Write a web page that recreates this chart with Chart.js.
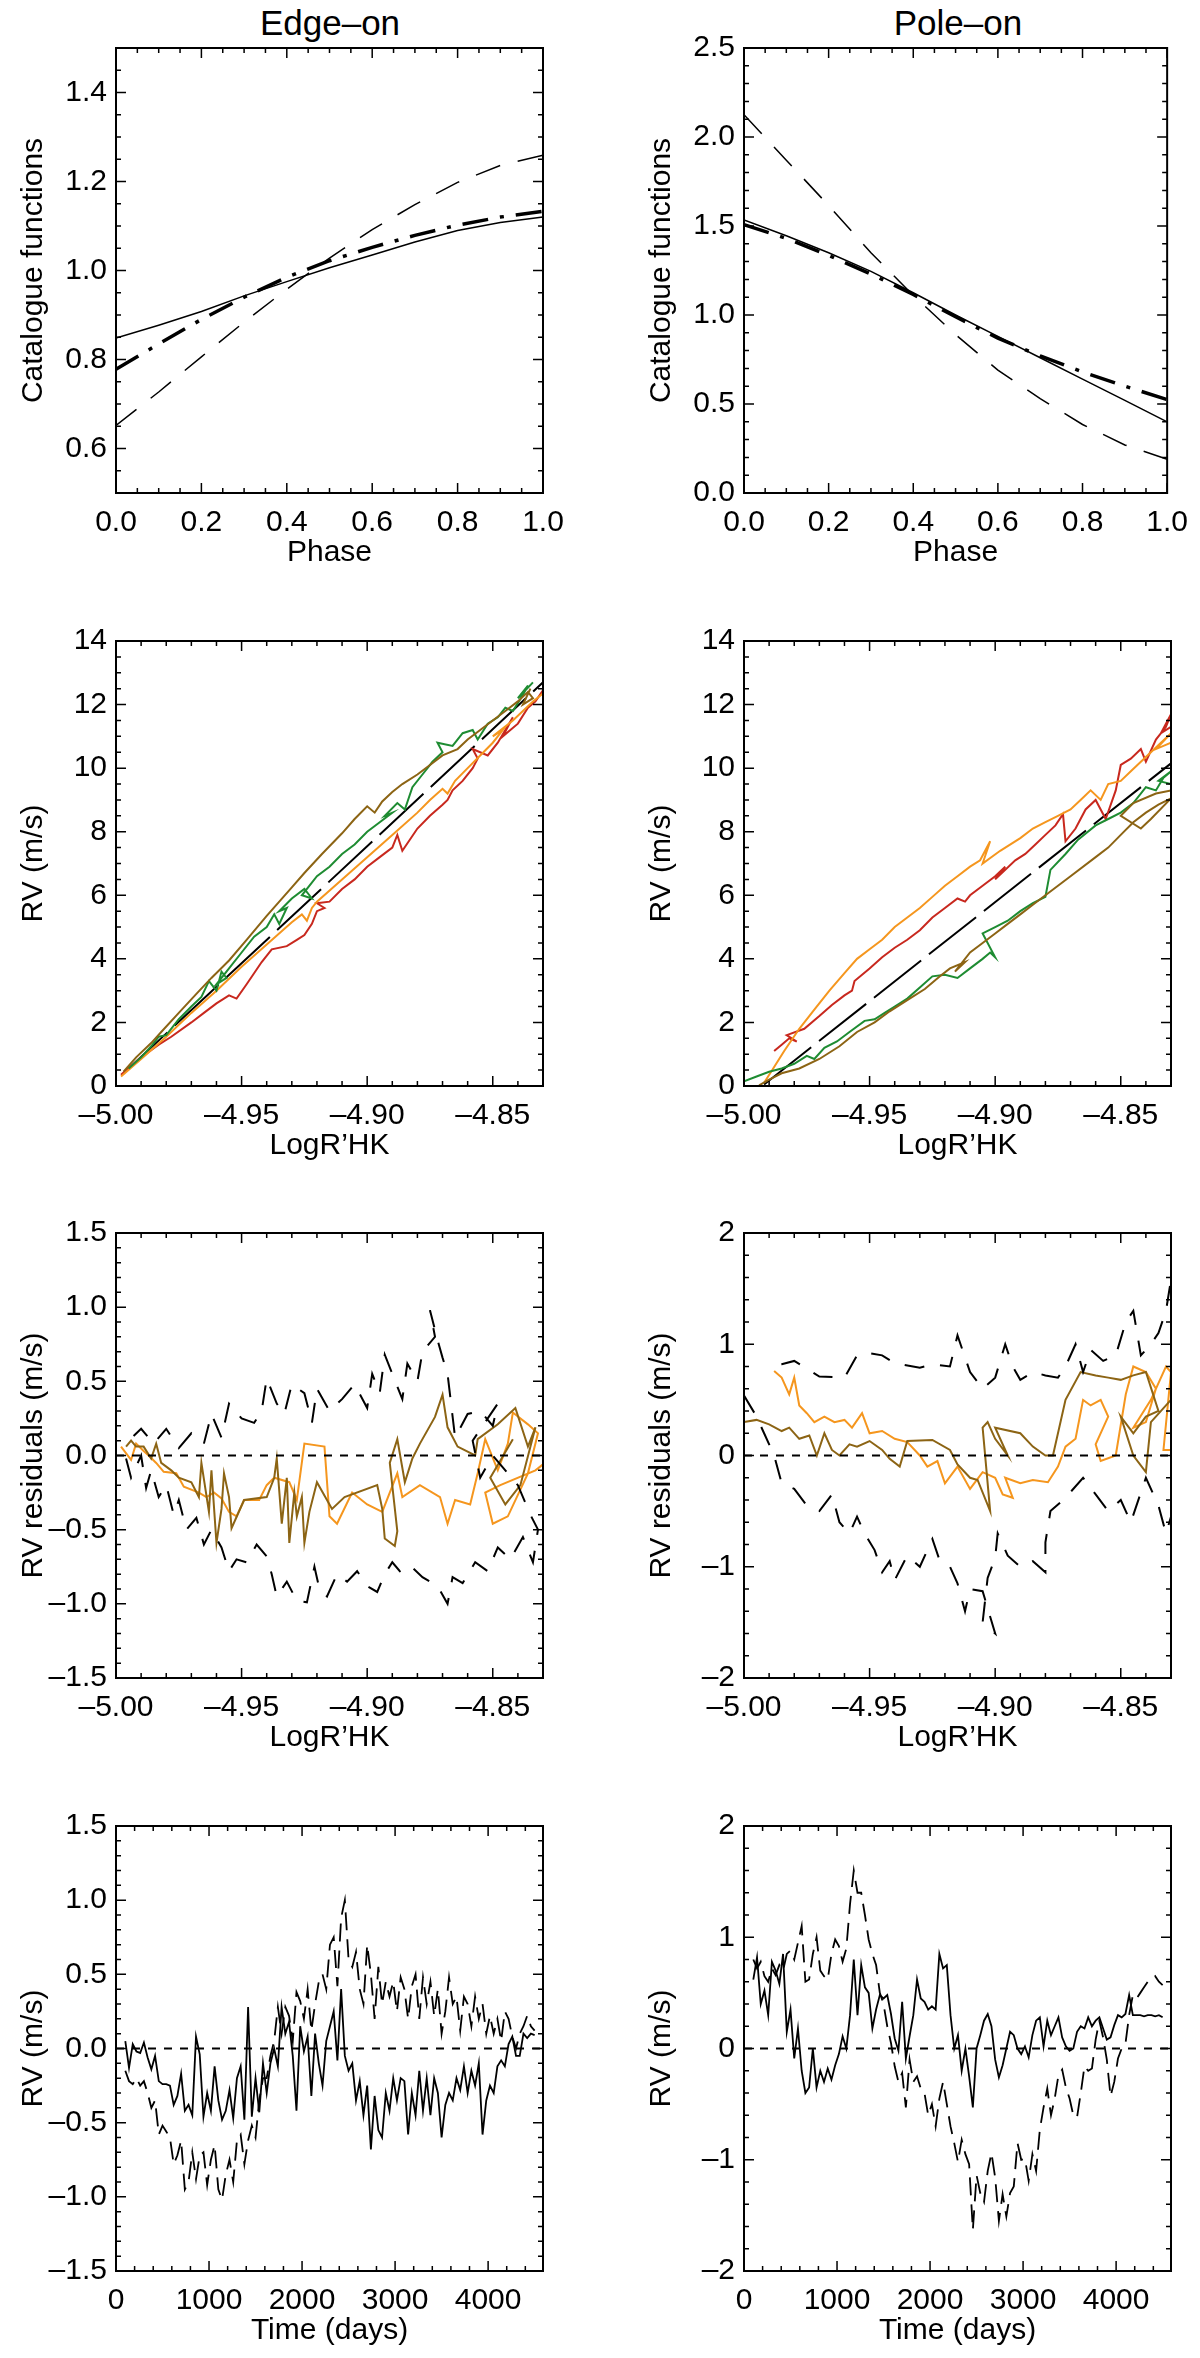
<!DOCTYPE html>
<html>
<head>
<meta charset="utf-8">
<script src="https://cdn.jsdelivr.net/npm/chart.js@4.4.0/dist/chart.umd.min.js"></script>
<style>
html, body { margin: 0; padding: 0; background: #fff; width: 1200px; height: 2358px; overflow: hidden; }
canvas { position: absolute; }
.head { position: absolute; top: 3px; width: 300px; text-align: center; font: 35px "Liberation Sans", Arial, sans-serif; line-height: 40px; color: #000; }
</style>
</head>
<body>
<div class="head" style="left:180px">Edge–on</div>
<div class="head" style="left:808px">Pole–on</div>
<canvas id="c1" width="600" height="593" style="left:0;top:0"></canvas>
<canvas id="c2" width="572" height="593" style="left:628px;top:0"></canvas>
<canvas id="c3" width="600" height="593" style="left:0;top:593px"></canvas>
<canvas id="c4" width="572" height="593" style="left:628px;top:593px"></canvas>
<canvas id="c5" width="600" height="593" style="left:0;top:1185px"></canvas>
<canvas id="c6" width="572" height="593" style="left:628px;top:1185px"></canvas>
<canvas id="c7" width="600" height="593" style="left:0;top:1778px"></canvas>
<canvas id="c8" width="572" height="593" style="left:628px;top:1778px"></canvas>
<script>
// tick labels
const phaseTicks = [0, 0.2, 0.4, 0.6, 0.8, 1.0];
const edgeCatTicks = [0.6, 0.8, 1.0, 1.2, 1.4];
const poleCatTicks = [0, 0.5, 1.0, 1.5, 2.0, 2.5];
const logTicks = [-5.00, -4.95, -4.90, -4.85];
const rvTicks = [0, 2, 4, 6, 8, 10, 12, 14];
const edgeResTicks = [-1.5, -1.0, -0.5, 0, 0.5, 1.0, 1.5];
const poleResTicks = [-2, -1, 0, 1, 2];
const dayTicks = [0, 1000, 2000, 3000, 4000];

// catalogue functions vs phase
const phase = [0, 0.1, 0.2, 0.3, 0.4, 0.5, 0.6, 0.7, 0.8, 0.9, 1.0];
const edgeSolid = [0.848, 0.877, 0.908, 0.943, 0.975, 1.006, 1.035, 1.064, 1.090, 1.108, 1.120];
const edgeDashDot = [0.778, 0.835, 0.890, 0.940, 0.985, 1.022, 1.052, 1.079, 1.102, 1.120, 1.133];
const edgeDashed = [0.652, 0.727, 0.806, 0.884, 0.958, 1.028, 1.092, 1.148, 1.198, 1.236, 1.259];
const poleSolid = [1.534, 1.445, 1.350, 1.245, 1.125, 1.000, 0.880, 0.760, 0.640, 0.520, 0.400];
const poleDashDot = [1.508, 1.430, 1.335, 1.230, 1.115, 0.990, 0.870, 0.770, 0.680, 0.600, 0.525];
const poleDashed = [2.125, 1.870, 1.615, 1.350, 1.110, 0.890, 0.690, 0.530, 0.385, 0.270, 0.190];

// RV vs LogR'HK, edge-on  [logR'HK, RV]
const edgeRvFit = [[-4.997, 0.4], [-4.83, 12.7]];
const edgeRvOlive = [[-4.997, 0.45], [-4.992, 0.9], [-4.986, 1.35], [-4.982, 1.7], [-4.975, 2.3], [-4.968, 2.9], [-4.962, 3.4], [-4.955, 3.95], [-4.948, 4.6], [-4.94, 5.35], [-4.935, 5.8], [-4.93, 6.25], [-4.925, 6.7], [-4.918, 7.3], [-4.91, 7.95], [-4.905, 8.4], [-4.9, 8.8], [-4.897, 8.6], [-4.894, 8.95], [-4.89, 9.25], [-4.886, 9.5], [-4.88, 9.8], [-4.875, 10.1], [-4.87, 10.4], [-4.864, 10.6], [-4.86, 10.9], [-4.855, 11.2], [-4.85, 11.5], [-4.845, 11.8], [-4.84, 12.1], [-4.836, 12.4], [-4.834, 12.2], [-4.838, 12.0], [-4.835, 12.5]];
const edgeRvGreen = [[-4.995, 0.55], [-4.99, 0.9], [-4.986, 1.25], [-4.983, 1.55], [-4.98, 1.6], [-4.975, 2.1], [-4.97, 2.5], [-4.966, 2.8], [-4.963, 3.3], [-4.96, 3.0], [-4.958, 3.6], [-4.956, 3.4], [-4.96, 3.2], [-4.955, 3.7], [-4.95, 4.2], [-4.945, 4.7], [-4.94, 5.0], [-4.937, 5.4], [-4.935, 5.1], [-4.932, 5.6], [-4.935, 5.5], [-4.93, 5.9], [-4.925, 6.2], [-4.922, 5.9], [-4.926, 6.0], [-4.92, 6.6], [-4.915, 6.9], [-4.91, 7.3], [-4.905, 7.6], [-4.9, 8.0], [-4.895, 8.3], [-4.89, 8.6], [-4.893, 8.5], [-4.888, 8.9], [-4.885, 8.7], [-4.882, 9.4], [-4.878, 9.8], [-4.874, 10.2], [-4.87, 10.5], [-4.872, 10.8], [-4.866, 10.7], [-4.862, 11.1], [-4.858, 11.2], [-4.856, 10.9], [-4.852, 11.4], [-4.848, 11.6], [-4.845, 11.9], [-4.842, 11.8], [-4.838, 12.3], [-4.836, 12.6], [-4.84, 12.2], [-4.834, 12.7]];
const edgeRvOrange = [[-4.998, 0.3], [-4.99, 0.85], [-4.98, 1.55], [-4.97, 2.3], [-4.96, 3.0], [-4.95, 3.75], [-4.94, 4.45], [-4.93, 5.15], [-4.926, 5.4], [-4.924, 5.2], [-4.922, 5.6], [-4.92, 5.8], [-4.91, 6.5], [-4.9, 7.2], [-4.89, 7.9], [-4.88, 8.6], [-4.875, 9.0], [-4.87, 9.35], [-4.868, 9.2], [-4.865, 9.6], [-4.86, 10.0], [-4.855, 10.4], [-4.85, 10.8], [-4.846, 11.2], [-4.85, 11.0], [-4.842, 11.5], [-4.838, 11.8], [-4.834, 12.1], [-4.83, 12.35]];
const edgeRvRed = [[-4.998, 0.35], [-4.99, 0.9], [-4.983, 1.3], [-4.978, 1.55], [-4.97, 2.0], [-4.965, 2.3], [-4.96, 2.6], [-4.955, 2.85], [-4.952, 2.75], [-4.948, 3.2], [-4.942, 3.9], [-4.938, 4.3], [-4.932, 4.4], [-4.928, 4.6], [-4.925, 4.75], [-4.922, 5.1], [-4.92, 5.5], [-4.917, 5.6], [-4.92, 5.75], [-4.915, 5.8], [-4.91, 6.2], [-4.905, 6.5], [-4.9, 6.9], [-4.895, 7.2], [-4.89, 7.5], [-4.888, 7.9], [-4.886, 7.4], [-4.88, 8.1], [-4.875, 8.5], [-4.87, 8.85], [-4.868, 9.0], [-4.866, 9.3], [-4.862, 9.6], [-4.858, 10.0], [-4.856, 10.3], [-4.858, 10.6], [-4.852, 10.4], [-4.848, 10.8], [-4.845, 11.2], [-4.842, 11.6], [-4.846, 11.0], [-4.84, 11.4], [-4.836, 11.9], [-4.833, 12.1], [-4.83, 12.45]];

// RV vs LogR'HK, pole-on
const poleRvFit = [[-4.992, 0.05], [-4.83, 10.15]];
const poleRvOlive = [[-4.994, 0.02], [-4.99, 0.2], [-4.985, 0.4], [-4.978, 0.55], [-4.97, 0.85], [-4.962, 1.25], [-4.955, 1.7], [-4.948, 2.0], [-4.942, 2.35], [-4.935, 2.7], [-4.928, 3.05], [-4.922, 3.45], [-4.918, 3.7], [-4.912, 3.9], [-4.916, 3.6], [-4.91, 4.2], [-4.905, 4.5], [-4.9, 4.8], [-4.895, 5.1], [-4.89, 5.4], [-4.885, 5.7], [-4.88, 6.0], [-4.87, 6.6], [-4.86, 7.2], [-4.855, 7.5], [-4.85, 7.9], [-4.845, 8.3], [-4.84, 8.6], [-4.835, 8.85], [-4.83, 9.05], [-4.838, 8.4], [-4.842, 8.1], [-4.85, 8.5], [-4.845, 8.9], [-4.836, 9.2], [-4.83, 9.3]];
const poleRvGreen = [[-5.0, 0.15], [-4.995, 0.3], [-4.99, 0.45], [-4.985, 0.55], [-4.98, 0.7], [-4.975, 0.95], [-4.972, 0.85], [-4.968, 1.2], [-4.963, 1.4], [-4.958, 1.7], [-4.952, 2.05], [-4.948, 2.1], [-4.944, 2.3], [-4.94, 2.5], [-4.935, 2.75], [-4.93, 3.1], [-4.925, 3.45], [-4.92, 3.5], [-4.915, 3.4], [-4.91, 3.7], [-4.905, 4.0], [-4.902, 4.2], [-4.9, 4.05], [-4.905, 4.8], [-4.9, 5.0], [-4.895, 5.2], [-4.89, 5.5], [-4.885, 5.75], [-4.88, 5.95], [-4.878, 6.8], [-4.872, 7.3], [-4.867, 7.75], [-4.86, 8.2], [-4.855, 8.4], [-4.85, 8.6], [-4.845, 8.9], [-4.84, 9.4], [-4.836, 9.3], [-4.833, 9.7], [-4.83, 9.9], [-4.835, 9.6], [-4.83, 9.5]];
const poleRvOrange = [[-4.992, 0.1], [-4.988, 0.6], [-4.984, 1.1], [-4.978, 1.8], [-4.972, 2.4], [-4.966, 3.0], [-4.96, 3.55], [-4.955, 4.0], [-4.95, 4.3], [-4.945, 4.6], [-4.94, 5.0], [-4.935, 5.3], [-4.93, 5.6], [-4.925, 5.95], [-4.92, 6.3], [-4.915, 6.6], [-4.91, 6.9], [-4.906, 7.1], [-4.902, 7.7], [-4.905, 7.0], [-4.898, 7.4], [-4.89, 7.8], [-4.885, 8.1], [-4.88, 8.3], [-4.875, 8.5], [-4.87, 8.7], [-4.866, 9.0], [-4.862, 9.3], [-4.858, 9.0], [-4.855, 9.5], [-4.85, 9.6], [-4.846, 9.9], [-4.842, 10.2], [-4.838, 10.5], [-4.834, 10.8], [-4.83, 11.1], [-4.836, 10.6], [-4.83, 10.8]];
const poleRvRed = [[-4.988, 1.1], [-4.985, 1.3], [-4.982, 1.5], [-4.979, 1.4], [-4.983, 1.6], [-4.976, 1.8], [-4.97, 2.2], [-4.965, 2.55], [-4.96, 2.85], [-4.957, 3.0], [-4.956, 3.3], [-4.95, 3.7], [-4.945, 4.05], [-4.94, 4.35], [-4.935, 4.6], [-4.93, 4.9], [-4.925, 5.3], [-4.92, 5.6], [-4.915, 5.9], [-4.912, 5.8], [-4.91, 6.0], [-4.905, 6.3], [-4.9, 6.6], [-4.896, 6.9], [-4.9, 6.5], [-4.892, 7.1], [-4.888, 7.3], [-4.884, 7.6], [-4.88, 7.9], [-4.876, 8.2], [-4.873, 8.55], [-4.872, 7.7], [-4.868, 8.1], [-4.864, 8.7], [-4.86, 9.0], [-4.856, 8.4], [-4.852, 9.3], [-4.85, 10.1], [-4.846, 10.3], [-4.842, 10.6], [-4.84, 10.2], [-4.836, 10.9], [-4.832, 11.3], [-4.83, 11.7], [-4.834, 11.1], [-4.83, 11.3]];

// RV residuals vs LogR'HK, edge-on
const edgeResBlack = [[-4.996, -0.02], [-4.994, -0.15], [-4.99, 0.0], [-4.988, -0.22], [-4.986, -0.1], [-4.983, -0.28], [-4.98, -0.2], [-4.977, -0.4], [-4.975, -0.3], [-4.972, -0.5], [-4.968, -0.42], [-4.965, -0.6], [-4.962, -0.5], [-4.958, -0.62], [-4.955, -0.78], [-4.952, -0.7], [-4.948, -0.72], [-4.944, -0.6], [-4.94, -0.68], [-4.938, -0.8], [-4.936, -0.95], [-4.932, -0.85], [-4.928, -0.98], [-4.924, -0.99], [-4.921, -0.75], [-4.919, -0.9], [-4.916, -0.95], [-4.912, -0.8], [-4.908, -0.85], [-4.904, -0.78], [-4.9, -0.88], [-4.896, -0.92], [-4.893, -0.8], [-4.89, -0.72], [-4.887, -0.78], [-4.883, -0.74], [-4.878, -0.82], [-4.872, -0.88], [-4.868, -1.0], [-4.866, -0.82], [-4.862, -0.86], [-4.857, -0.72], [-4.852, -0.78], [-4.848, -0.62], [-4.843, -0.7], [-4.838, -0.55], [-4.834, -0.72], [-4.832, -0.5], [-4.835, -0.4], [-4.84, -0.2], [-4.845, -0.1], [-4.85, 0.0], [-4.855, -0.15], [-4.858, 0.1], [-4.848, 0.35], [-4.85, 0.2], [-4.855, 0.3], [-4.86, 0.28], [-4.865, 0.12], [-4.868, 0.55], [-4.87, 0.66], [-4.872, 0.78], [-4.875, 0.98], [-4.873, 0.8], [-4.878, 0.7], [-4.88, 0.5], [-4.884, 0.62], [-4.886, 0.38], [-4.89, 0.55], [-4.893, 0.68], [-4.895, 0.42], [-4.898, 0.55], [-4.9, 0.32], [-4.905, 0.48], [-4.91, 0.38], [-4.915, 0.3], [-4.92, 0.45], [-4.922, 0.22], [-4.925, 0.42], [-4.93, 0.48], [-4.933, 0.28], [-4.936, 0.35], [-4.94, 0.52], [-4.942, 0.3], [-4.945, 0.22], [-4.95, 0.25], [-4.955, 0.35], [-4.958, 0.12], [-4.962, 0.28], [-4.965, 0.08], [-4.97, 0.15], [-4.975, 0.05], [-4.98, 0.18], [-4.985, 0.08], [-4.99, 0.18], [-4.995, 0.1]];
const edgeResOlive = [[-4.996, 0.06], [-4.994, 0.1], [-4.992, 0.06], [-4.989, 0.06], [-4.986, -0.02], [-4.984, 0.08], [-4.982, -0.05], [-4.978, -0.1], [-4.975, -0.15], [-4.97, -0.18], [-4.967, -0.28], [-4.966, -0.05], [-4.963, -0.38], [-4.962, -0.1], [-4.96, -0.59], [-4.958, -0.36], [-4.957, -0.12], [-4.955, -0.28], [-4.954, -0.49], [-4.949, -0.3], [-4.94, -0.28], [-4.937, -0.15], [-4.936, -0.02], [-4.934, -0.46], [-4.932, -0.15], [-4.931, -0.59], [-4.929, -0.25], [-4.928, -0.41], [-4.926, -0.28], [-4.925, -0.59], [-4.923, -0.38], [-4.92, -0.18], [-4.914, -0.36], [-4.909, -0.28], [-4.896, -0.2], [-4.894, -0.36], [-4.893, -0.56], [-4.889, -0.61], [-4.888, -0.51], [-4.891, -0.05], [-4.888, 0.11], [-4.885, -0.18], [-4.882, -0.02], [-4.879, 0.08], [-4.873, 0.26], [-4.87, 0.41], [-4.868, 0.19], [-4.864, 0.06], [-4.857, 0.0], [-4.856, 0.11], [-4.848, 0.21], [-4.841, 0.32], [-4.836, 0.06], [-4.833, 0.19], [-4.839, -0.2], [-4.845, -0.33], [-4.851, -0.15], [-4.842, 0.11]];
const edgeResOrange = [[-4.998, 0.06], [-4.994, -0.03], [-4.992, 0.08], [-4.989, 0.03], [-4.987, 0.0], [-4.984, -0.05], [-4.981, -0.11], [-4.976, -0.12], [-4.973, -0.21], [-4.967, -0.25], [-4.964, -0.28], [-4.961, -0.25], [-4.958, -0.29], [-4.955, -0.38], [-4.952, -0.41], [-4.949, -0.3], [-4.943, -0.3], [-4.94, -0.2], [-4.937, -0.15], [-4.931, -0.18], [-4.928, -0.3], [-4.925, 0.08], [-4.917, 0.06], [-4.915, -0.41], [-4.912, -0.46], [-4.906, -0.25], [-4.9, -0.33], [-4.894, -0.38], [-4.888, -0.12], [-4.886, -0.28], [-4.879, -0.2], [-4.871, -0.28], [-4.868, -0.46], [-4.865, -0.3], [-4.859, -0.33], [-4.856, -0.12], [-4.853, 0.11], [-4.848, -0.1], [-4.844, 0.08], [-4.842, 0.29], [-4.836, 0.21], [-4.832, 0.15], [-4.836, -0.12], [-4.844, -0.41], [-4.85, -0.46], [-4.853, -0.25], [-4.847, -0.2], [-4.833, -0.1], [-4.83, -0.06]];

// RV residuals vs LogR'HK, pole-on
const poleResBlack = [[-5.0, 0.54], [-4.995, 0.35], [-4.992, 0.2], [-4.988, 0.0], [-4.985, -0.25], [-4.98, -0.3], [-4.975, -0.45], [-4.97, -0.5], [-4.965, -0.35], [-4.962, -0.6], [-4.958, -0.7], [-4.955, -0.55], [-4.952, -0.7], [-4.948, -0.85], [-4.945, -1.05], [-4.942, -0.95], [-4.94, -1.12], [-4.935, -0.9], [-4.93, -1.0], [-4.925, -0.75], [-4.922, -0.95], [-4.918, -1.0], [-4.915, -1.15], [-4.912, -1.4], [-4.91, -1.2], [-4.905, -1.22], [-4.9, -1.6], [-4.905, -1.5], [-4.903, -1.1], [-4.9, -0.92], [-4.899, -0.7], [-4.895, -0.9], [-4.89, -1.0], [-4.885, -0.95], [-4.88, -1.05], [-4.88, -0.78], [-4.878, -0.5], [-4.872, -0.38], [-4.865, -0.2], [-4.86, -0.35], [-4.855, -0.5], [-4.85, -0.4], [-4.846, -0.6], [-4.84, -0.2], [-4.835, -0.45], [-4.832, -0.7], [-4.83, -0.55], [-4.83, 1.58], [-4.832, 1.3], [-4.835, 1.1], [-4.838, 1.0], [-4.842, 0.9], [-4.845, 1.3], [-4.848, 1.2], [-4.852, 0.9], [-4.857, 0.85], [-4.862, 0.95], [-4.865, 0.75], [-4.868, 1.0], [-4.872, 0.8], [-4.875, 0.7], [-4.88, 0.72], [-4.885, 0.75], [-4.89, 0.68], [-4.893, 0.8], [-4.896, 1.0], [-4.9, 0.7], [-4.905, 0.6], [-4.91, 0.75], [-4.915, 1.08], [-4.918, 0.8], [-4.925, 0.82], [-4.93, 0.79], [-4.94, 0.83], [-4.945, 0.9], [-4.95, 0.92], [-4.955, 0.9], [-4.96, 0.7], [-4.97, 0.71], [-4.975, 0.78], [-4.98, 0.85], [-4.985, 0.82], [-4.99, 0.8]];
const poleResOlive = [[-5.0, 0.3], [-4.995, 0.32], [-4.99, 0.28], [-4.985, 0.22], [-4.982, 0.25], [-4.978, 0.15], [-4.974, 0.18], [-4.971, 0.0], [-4.968, 0.2], [-4.965, 0.05], [-4.962, 0.0], [-4.958, 0.1], [-4.955, 0.08], [-4.95, 0.13], [-4.945, 0.05], [-4.942, -0.03], [-4.938, -0.1], [-4.935, 0.13], [-4.925, 0.14], [-4.918, 0.05], [-4.915, -0.08], [-4.91, -0.2], [-4.907, -0.22], [-4.902, -0.5], [-4.905, 0.25], [-4.903, 0.3], [-4.9, 0.15], [-4.895, 0.0], [-4.9, 0.25], [-4.89, 0.2], [-4.885, 0.08], [-4.88, 0.0], [-4.877, 0.0], [-4.872, 0.5], [-4.866, 0.75], [-4.86, 0.72], [-4.855, 0.7], [-4.85, 0.68], [-4.845, 0.72], [-4.84, 0.75], [-4.835, 0.4], [-4.84, 0.35], [-4.845, 0.2], [-4.85, 0.35], [-4.845, 0.0], [-4.84, -0.15], [-4.838, 0.3], [-4.832, 0.45], [-4.83, 0.5]];
const poleResOrange = [[-4.988, 0.76], [-4.985, 0.7], [-4.982, 0.55], [-4.98, 0.7], [-4.978, 0.45], [-4.975, 0.38], [-4.972, 0.3], [-4.968, 0.35], [-4.964, 0.3], [-4.96, 0.32], [-4.957, 0.25], [-4.953, 0.38], [-4.95, 0.2], [-4.945, 0.22], [-4.94, 0.15], [-4.935, 0.12], [-4.93, 0.0], [-4.927, -0.1], [-4.923, -0.05], [-4.92, -0.25], [-4.915, -0.1], [-4.91, -0.3], [-4.905, -0.15], [-4.9, -0.2], [-4.897, -0.35], [-4.893, -0.38], [-4.896, -0.2], [-4.89, -0.25], [-4.885, -0.22], [-4.879, -0.24], [-4.875, -0.1], [-4.872, 0.08], [-4.868, 0.15], [-4.865, 0.5], [-4.862, 0.45], [-4.858, 0.5], [-4.855, 0.35], [-4.86, 0.1], [-4.858, -0.05], [-4.852, 0.0], [-4.848, 0.55], [-4.845, 0.8], [-4.84, 0.75], [-4.836, 0.6], [-4.84, 0.3], [-4.845, 0.25], [-4.838, 0.5], [-4.832, 0.8], [-4.83, 0.75], [-4.833, 0.05], [-4.83, 0.05]];

// RV vs time
const days = [100, 140, 180, 220, 260, 300, 340, 380, 420, 460,
  500, 540, 580, 620, 660, 700, 740, 780, 820, 860,
  900, 940, 980, 1020, 1060, 1100, 1140, 1180, 1220, 1260,
  1300, 1340, 1380, 1420, 1460, 1500, 1540, 1580, 1620, 1660,
  1700, 1740, 1780, 1820, 1860, 1900, 1940, 1980, 2020, 2060,
  2100, 2140, 2180, 2220, 2260, 2300, 2340, 2380, 2420, 2460,
  2500, 2540, 2580, 2620, 2660, 2700, 2740, 2780, 2820, 2860,
  2900, 2940, 2980, 3020, 3060, 3100, 3140, 3180, 3220, 3260,
  3300, 3340, 3380, 3420, 3460, 3500, 3540, 3580, 3620, 3660,
  3700, 3740, 3780, 3820, 3860, 3900, 3940, 3980, 4020, 4060,
  4100, 4140, 4180, 4220, 4260, 4300, 4340, 4380, 4420, 4460,
  4500];
const edgeTimeSolid = [0.05, -0.13, 0.03, -0.02, -0.03, 0.04, -0.06, -0.14, -0.05, -0.22,
  -0.24, -0.24, -0.25, -0.38, -0.32, -0.17, -0.42, -0.38, -0.45, 0.08,
  -0.04, -0.46, -0.30, -0.42, -0.12, -0.35, -0.48, -0.42, -0.28, -0.47,
  -0.20, -0.12, -0.48, 0.28, -0.46, -0.20, -0.43, -0.10, -0.30, -0.10,
  0.00, -0.12, 0.28, 0.10, 0.18, -0.05, -0.42, 0.15, -0.02, 0.08,
  -0.32, 0.10, -0.10, -0.25, 0.05, 0.15, 0.25, -0.08, 0.40, -0.05,
  -0.15, -0.10, -0.35, -0.22, -0.45, -0.25, -0.68, -0.32, -0.55, -0.60,
  -0.30, -0.42, -0.20, -0.35, -0.20, -0.22, -0.58, -0.30, -0.45, -0.15,
  -0.42, -0.20, -0.45, -0.20, -0.30, -0.60, -0.38, -0.30, -0.35, -0.20,
  -0.28, -0.12, -0.30, -0.15, -0.25, -0.10, -0.58, -0.35, -0.25, -0.30,
  -0.12, -0.08, -0.12, 0.03, 0.08, -0.05, -0.05, 0.10, 0.07, 0.10,
  0.09];
const edgeTimeDashed = [-0.15, -0.22, -0.24, -0.20, -0.25, -0.22, -0.30, -0.40, -0.35, -0.58,
  -0.52, -0.56, -0.60, -0.78, -0.72, -0.62, -0.95, -0.90, -0.70, -0.88,
  -0.72, -0.70, -0.92, -0.75, -0.65, -0.95, -1.02, -0.85, -0.75, -0.90,
  -0.62, -0.58, -0.78, -0.62, -0.52, -0.60, -0.35, -0.20, -0.20, -0.05,
  0.05, 0.28, 0.10, 0.28, 0.22, 0.05, 0.38, 0.32, 0.20, 0.40,
  0.12, 0.30, 0.45, 0.50, 0.40, 0.70, 0.75, 0.42, 0.88, 1.00,
  0.60, 0.55, 0.65, 0.40, 0.30, 0.70, 0.50, 0.20, 0.55, 0.30,
  0.45, 0.35, 0.45, 0.25, 0.48, 0.40, 0.20, 0.42, 0.50, 0.20,
  0.48, 0.30, 0.45, 0.22, 0.40, 0.10, 0.25, 0.48, 0.30, 0.35,
  0.12, 0.35, 0.30, 0.15, 0.35, 0.20, 0.30, 0.10, 0.22, 0.10,
  0.20, 0.05, 0.25, 0.20, 0.08, 0.00, 0.10, 0.15, 0.22, 0.15,
  0.12];
const poleTimeSolid = [0.62, 0.82, 0.40, 0.52, 0.30, 0.78, 0.70, 0.58, 0.85, 0.15,
  0.35, -0.09, 0.18, -0.20, -0.40, -0.35, 0.00, -0.35, -0.20, -0.30,
  -0.18, -0.28, -0.15, -0.05, 0.11, 0.00, 0.30, 0.80, 0.30, 0.75,
  0.55, 0.50, 0.18, 0.35, 0.48, 0.45, 0.48, 0.31, 0.09, -0.02,
  0.42, -0.09, 0.11, 0.30, 0.62, 0.45, 0.42, 0.35, 0.38, 0.35,
  0.85, 0.72, 0.75, 0.30, 0.00, 0.12, -0.20, 0.00, -0.25, -0.53,
  0.00, 0.12, 0.25, 0.31, 0.20, -0.10, -0.26, -0.15, 0.00, 0.15,
  0.12, 0.00, -0.05, 0.02, -0.08, 0.12, 0.25, 0.28, 0.02, 0.25,
  0.12, 0.20, 0.28, 0.10, 0.02, -0.02, 0.00, 0.15, 0.20, 0.18,
  0.28, 0.20, 0.25, 0.28, 0.18, 0.08, 0.10, 0.21, 0.30, 0.28,
  0.31, 0.48, 0.30, 0.30, 0.30, 0.29, 0.30, 0.30, 0.29, 0.30,
  0.28];
const poleTimeDashed = [0.80, 0.72, 0.78, 0.65, 0.60, 0.72, 0.66, 0.75, 0.70, 0.85,
  0.88, 0.80, 0.95, 1.10, 0.60, 0.62, 0.85, 1.00, 0.70, 0.65,
  0.62, 0.85, 0.98, 0.92, 0.78, 0.90, 1.30, 1.60, 1.40, 1.40,
  1.20, 0.98, 0.85, 0.75, 0.50, 0.40, 0.20, 0.05, -0.16, -0.30,
  -0.22, -0.53, -0.10, -0.30, -0.25, -0.36, -0.40, -0.60, -0.50, -0.70,
  -0.45, -0.30, -0.50, -0.70, -0.85, -1.02, -0.82, -0.95, -1.04, -1.63,
  -1.14, -1.30, -1.38, -1.10, -0.94, -1.16, -1.55, -1.31, -1.51, -1.30,
  -1.24, -0.85, -1.00, -0.99, -1.19, -0.95, -1.10, -0.73, -0.53, -0.36,
  -0.60, -0.45, -0.24, -0.19, -0.35, -0.45, -0.60, -0.62, -0.40, -0.16,
  -0.20, -0.18, 0.08, 0.25, 0.10, -0.10, -0.43, -0.30, -0.09, 0.00,
  0.04, 0.30, 0.48, 0.45, 0.50, 0.55, 0.60, 0.62, 0.65, 0.60,
  0.57];

const GREEN = '#1e8c32', OLIVE = '#8c6414', ORANGE = '#f5961e', RED = '#c8281e';
const FONT = '"Liberation Sans", Arial, Helvetica, sans-serif';

const dash = s => s.replace('-', '\u2013');
const fmt0 = v => dash(String(Math.round(v)));
const fmt1 = v => dash(v.toFixed(1));
const fmt2 = v => dash(v.toFixed(2));

const pts = pairs => pairs.map(p => ({ x: p[0], y: p[1] }));
const series = (xs, ys) => xs.map((x, i) => ({ x: x, y: ys[i] }));
function line(data, color, width, pattern) {
  return { data: data, showLine: true, borderColor: color, borderWidth: width, borderDash: pattern || [],
           pointRadius: 0, fill: false, tension: 0 };
}

// IDL-like frame: box and inward major/minor ticks on all four sides
const idlFrame = {
  id: 'idlFrame',
  afterDatasetsDraw(chart, args, o) {
    const { ctx, chartArea: a } = chart;
    const x = chart.scales.x, y = chart.scales.y;
    const minor = (s, step) => {
      const out = [];
      for (let k = Math.ceil(s.min / step - 1e-6); k * step <= s.max + 1e-9; k++) out.push(k * step);
      return out;
    };
    ctx.save();
    ctx.strokeStyle = '#000';
    ctx.lineWidth = 1.5;
    ctx.beginPath();
    const xs = [[x.ticks.map(t => t.value), 10], [minor(x, o.xMinor), 5]];
    xs.forEach(([vals, len]) => vals.forEach(v => {
      const px = x.getPixelForValue(v);
      ctx.moveTo(px, a.bottom); ctx.lineTo(px, a.bottom - len);
      ctx.moveTo(px, a.top); ctx.lineTo(px, a.top + len);
    }));
    const ys = [[y.ticks.map(t => t.value), 10], [minor(y, o.yMinor), 5]];
    ys.forEach(([vals, len]) => vals.forEach(v => {
      const py = y.getPixelForValue(v);
      ctx.moveTo(a.left, py); ctx.lineTo(a.left + len, py);
      ctx.moveTo(a.right, py); ctx.lineTo(a.right - len, py);
    }));
    ctx.stroke();
    ctx.lineWidth = 2;
    ctx.strokeRect(a.left, a.top, a.right - a.left, a.bottom - a.top);
    ctx.restore();
  }
};

function axis(a, dir) {
  const tickFont = { family: FONT, size: 30 };
  return {
    type: 'linear', min: a.min, max: a.max,
    grid: { display: false, drawTicks: false },
    border: { display: false },
    afterBuildTicks: s => { s.ticks = a.ticks.map(v => ({ value: v })); },
    afterFit: s => { if (dir === 'x') s.height = 100; else s.width = 116; },
    ticks: { autoSkip: false, maxRotation: 0, color: '#000', font: tickFont,
             padding: dir === 'x' ? 12 : 9, callback: v => a.fmt(v) },
    title: { display: true, text: a.title, color: '#000', font: tickFont,
             padding: dir === 'x' ? { top: 0, bottom: 22 } : { top: 16, bottom: 0 } }
  };
}

function panel(id, right, xa, ya, sets) {
  return new Chart(document.getElementById(id), {
    type: 'scatter',
    data: { datasets: sets },
    options: {
      responsive: false, animation: false, devicePixelRatio: 1,
      layout: { padding: { left: 0, top: 48, right: right, bottom: 0 } },
      plugins: { legend: { display: false }, tooltip: { enabled: false },
                 idlFrame: { xMinor: xa.minor, yMinor: ya.minor } },
      scales: { x: axis(xa, 'x'), y: axis(ya, 'y') }
    },
    plugins: [idlFrame]
  });
}

const phaseAx = { min: 0, max: 1, ticks: phaseTicks, fmt: fmt1, minor: 0.05, title: 'Phase' };
const logAx = { min: -5.0, max: -4.83, ticks: logTicks, fmt: fmt2, minor: 0.01, title: 'LogR\u2019HK' };
const dayAx = { min: 0, max: 4590, ticks: dayTicks, fmt: fmt0, minor: 200, title: 'Time (days)' };
const edgeCatAx = { min: 0.5, max: 1.5, ticks: edgeCatTicks, fmt: fmt1, minor: 0.05, title: 'Catalogue functions' };
const poleCatAx = { min: 0, max: 2.5, ticks: poleCatTicks, fmt: fmt1, minor: 0.1, title: 'Catalogue functions' };
const rvAx = { min: 0, max: 14, ticks: rvTicks, fmt: fmt0, minor: 0.5, title: 'RV (m/s)' };
const edgeResAx = { min: -1.5, max: 1.5, ticks: edgeResTicks, fmt: fmt1, minor: 0.1, title: 'RV residuals (m/s)' };
const poleResAx = { min: -2, max: 2, ticks: poleResTicks, fmt: fmt0, minor: 0.2, title: 'RV residuals (m/s)' };
const edgeTimeAx = { min: -1.5, max: 1.5, ticks: edgeResTicks, fmt: fmt1, minor: 0.1, title: 'RV (m/s)' };
const poleTimeAx = { min: -2, max: 2, ticks: poleResTicks, fmt: fmt0, minor: 0.2, title: 'RV (m/s)' };

const zero = ax => line(pts([[ax.min, 0], [ax.max, 0]]), '#000', 2, [8, 8]);
const DASHDOT = [26, 12, 4, 12];

panel('c1', 57, phaseAx, edgeCatAx, [
  line(series(phase, edgeSolid), '#000', 1.5),
  line(series(phase, edgeDashDot), '#000', 3.5, DASHDOT),
  line(series(phase, edgeDashed), '#000', 1.5, [26, 18])
]);
panel('c2', 29, phaseAx, poleCatAx, [
  line(series(phase, poleSolid), '#000', 1.5),
  line(series(phase, poleDashDot), '#000', 3.5, DASHDOT),
  line(series(phase, poleDashed), '#000', 1.5, [26, 18])
]);
panel('c3', 57, logAx, rvAx, [
  line(pts(edgeRvOlive), OLIVE, 2),
  line(pts(edgeRvGreen), GREEN, 2),
  line(pts(edgeRvOrange), ORANGE, 2),
  line(pts(edgeRvRed), RED, 2),
  line(pts(edgeRvFit), '#000', 2, [60, 10])
]);
panel('c4', 29, logAx, rvAx, [
  line(pts(poleRvOlive), OLIVE, 2),
  line(pts(poleRvGreen), GREEN, 2),
  line(pts(poleRvOrange), ORANGE, 2),
  line(pts(poleRvRed), RED, 2),
  line(pts(poleRvFit), '#000', 2, [60, 10])
]);
panel('c5', 57, logAx, edgeResAx, [
  zero(logAx),
  line(pts(edgeResBlack), '#000', 2, [20, 16]),
  line(pts(edgeResOlive), OLIVE, 2),
  line(pts(edgeResOrange), ORANGE, 2)
]);
panel('c6', 29, logAx, poleResAx, [
  zero(logAx),
  line(pts(poleResBlack), '#000', 2, [20, 16]),
  line(pts(poleResOlive), OLIVE, 2),
  line(pts(poleResOrange), ORANGE, 2)
]);
panel('c7', 57, dayAx, edgeTimeAx, [
  zero(dayAx),
  line(series(days, edgeTimeSolid), '#000', 1.8),
  line(series(days, edgeTimeDashed), '#000', 1.8, [18, 9])
]);
panel('c8', 29, dayAx, poleTimeAx, [
  zero(dayAx),
  line(series(days, poleTimeSolid), '#000', 1.8),
  line(series(days, poleTimeDashed), '#000', 1.8, [18, 9])
]);
</script>
</body>
</html>
